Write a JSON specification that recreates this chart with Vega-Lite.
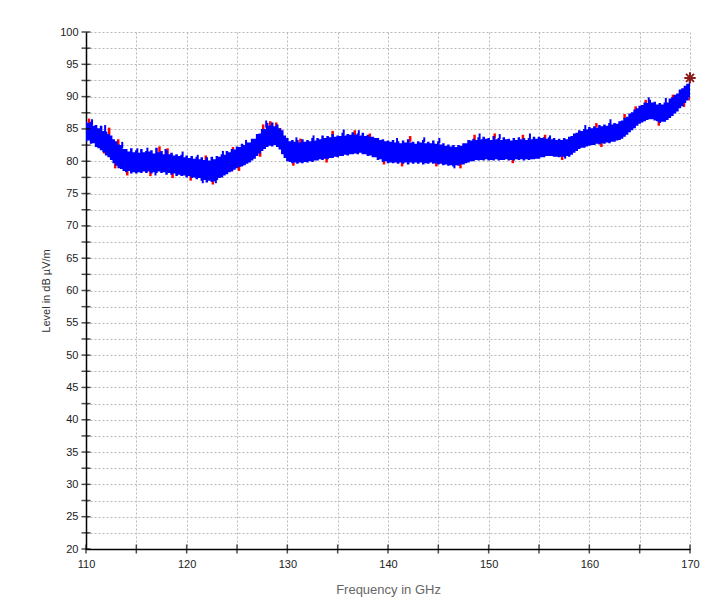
{
  "$schema": "https://vega.github.io/schema/vega-lite/v6.json",
  "width": 604,
  "height": 517,
  "autosize": {"type": "none"},
  "padding": {"left": 86, "top": 32, "right": 19, "bottom": 52},
  "background": "white",
  "config": {
    "view": {"stroke": null},
    "axis": {
      "labelFont": "Liberation Sans",
      "labelFontSize": 11,
      "labelColor": "#222222",
      "labelOverlap": false,
      "titleFont": "Liberation Sans",
      "titleFontWeight": "normal",
      "domainColor": "#000000",
      "domainWidth": 1.5,
      "ticks": false,
      "gridColor": "#b8b8b8",
      "gridDash": [2, 2],
      "gridWidth": 1
    }
  },
  "datasets": {
    "trace": [
      {"f":110,"l":83.0,"h":86.2},{"f":110.25,"l":83.2,"h":85.9},{"f":110.5,"l":82.7,"h":86.1},{"f":110.75,"l":82.8,"h":85.5},
      {"f":111,"l":82.2,"h":85.6},{"f":111.25,"l":82.0,"h":85.1},{"f":111.5,"l":81.7,"h":85.5},{"f":111.75,"l":81.4,"h":84.7},
      {"f":112,"l":80.9,"h":84.6},{"f":112.25,"l":80.6,"h":84.2},{"f":112.5,"l":80.2,"h":84.0},{"f":112.75,"l":79.7,"h":83.4},
      {"f":113,"l":79.3,"h":83.1},{"f":113.25,"l":78.9,"h":82.6},{"f":113.5,"l":78.8,"h":82.5},{"f":113.75,"l":78.5,"h":81.9},
      {"f":114,"l":78.3,"h":81.9},{"f":114.25,"l":78.5,"h":81.5},{"f":114.5,"l":78.1,"h":82.0},{"f":114.75,"l":78.3,"h":81.4},
      {"f":115,"l":78.1,"h":81.7},{"f":115.25,"l":78.3,"h":81.3},{"f":115.5,"l":78.2,"h":81.9},{"f":115.75,"l":78.4,"h":81.4},
      {"f":116,"l":78.2,"h":81.6},{"f":116.25,"l":78.4,"h":81.5},{"f":116.5,"l":78.1,"h":81.7},{"f":116.75,"l":78.3,"h":81.2},
      {"f":117,"l":78.2,"h":82.1},{"f":117.25,"l":78.4,"h":81.4},{"f":117.5,"l":78.2,"h":81.6},{"f":117.75,"l":78.3,"h":81.1},
      {"f":118,"l":77.9,"h":81.7},{"f":118.25,"l":78.2,"h":81.1},{"f":118.5,"l":77.9,"h":81.3},{"f":118.75,"l":78.1,"h":80.9},
      {"f":119,"l":77.7,"h":81.1},{"f":119.25,"l":77.9,"h":80.8},{"f":119.5,"l":77.7,"h":81.0},{"f":119.75,"l":77.8,"h":80.6},
      {"f":120,"l":77.5,"h":80.9},{"f":120.25,"l":77.7,"h":80.5},{"f":120.5,"l":77.4,"h":80.8},{"f":120.75,"l":77.5,"h":80.4},
      {"f":121,"l":77.2,"h":80.7},{"f":121.25,"l":77.4,"h":80.3},{"f":121.5,"l":77.0,"h":80.6},{"f":121.75,"l":77.1,"h":80.2},
      {"f":122,"l":76.7,"h":80.6},{"f":122.25,"l":77.0,"h":80.1},{"f":122.5,"l":76.8,"h":80.7},{"f":122.75,"l":76.9,"h":80.3},
      {"f":123,"l":77.1,"h":80.8},{"f":123.25,"l":77.4,"h":80.7},{"f":123.5,"l":77.5,"h":81.1},{"f":123.75,"l":77.8,"h":81.0},
      {"f":124,"l":78.0,"h":81.6},{"f":124.25,"l":78.3,"h":81.4},{"f":124.5,"l":78.4,"h":81.9},{"f":124.75,"l":78.7,"h":81.8},
      {"f":125,"l":78.9,"h":82.3},{"f":125.25,"l":79.1,"h":82.2},{"f":125.5,"l":79.2,"h":82.7},{"f":125.75,"l":79.4,"h":82.5},
      {"f":126,"l":79.6,"h":82.9},{"f":126.25,"l":79.8,"h":82.9},{"f":126.5,"l":80.1,"h":83.5},{"f":126.75,"l":80.4,"h":83.5},
      {"f":127,"l":80.8,"h":84.2},{"f":127.25,"l":81.2,"h":84.3},{"f":127.5,"l":81.6,"h":85.0},{"f":127.75,"l":81.9,"h":85.0},
      {"f":128,"l":82.2,"h":85.9},{"f":128.25,"l":82.4,"h":85.5},{"f":128.5,"l":82.3,"h":86.0},{"f":128.75,"l":82.5,"h":85.4},
      {"f":129,"l":82.2,"h":85.7},{"f":129.25,"l":81.8,"h":85.1},{"f":129.5,"l":81.1,"h":84.8},{"f":129.75,"l":80.5,"h":84.0},
      {"f":130,"l":80.0,"h":83.6},{"f":130.25,"l":79.9,"h":83.1},{"f":130.5,"l":79.7,"h":83.3},{"f":130.75,"l":79.8,"h":83.0},
      {"f":131,"l":79.6,"h":83.3},{"f":131.25,"l":79.8,"h":82.9},{"f":131.5,"l":79.7,"h":83.4},{"f":131.75,"l":79.9,"h":83.0},
      {"f":132,"l":79.8,"h":83.3},{"f":132.25,"l":80.0,"h":83.1},{"f":132.5,"l":79.9,"h":83.6},{"f":132.75,"l":80.1,"h":83.2},
      {"f":133,"l":80.1,"h":83.6},{"f":133.25,"l":80.3,"h":83.4},{"f":133.5,"l":80.2,"h":84.0},{"f":133.75,"l":80.4,"h":83.6},
      {"f":134,"l":80.3,"h":83.9},{"f":134.25,"l":80.5,"h":83.7},{"f":134.5,"l":80.5,"h":84.2},{"f":134.75,"l":80.7,"h":83.8},
      {"f":135,"l":80.6,"h":84.0},{"f":135.25,"l":80.8,"h":83.9},{"f":135.5,"l":80.8,"h":84.4},{"f":135.75,"l":81.0,"h":84.0},
      {"f":136,"l":80.9,"h":84.2},{"f":136.25,"l":81.1,"h":84.1},{"f":136.5,"l":81.1,"h":84.5},{"f":136.75,"l":81.2,"h":84.1},
      {"f":137,"l":81.1,"h":84.3},{"f":137.25,"l":81.3,"h":84.0},{"f":137.5,"l":81.1,"h":84.4},{"f":137.75,"l":81.1,"h":83.9},
      {"f":138,"l":80.8,"h":84.1},{"f":138.25,"l":80.9,"h":83.8},{"f":138.5,"l":80.6,"h":83.8},{"f":138.75,"l":80.6,"h":83.6},
      {"f":139,"l":80.2,"h":83.6},{"f":139.25,"l":80.3,"h":83.3},{"f":139.5,"l":79.9,"h":83.4},{"f":139.75,"l":80.0,"h":83.1},
      {"f":140,"l":79.7,"h":83.2},{"f":140.25,"l":79.8,"h":83.0},{"f":140.5,"l":79.7,"h":83.3},{"f":140.75,"l":79.8,"h":82.9},
      {"f":141,"l":79.6,"h":83.1},{"f":141.25,"l":79.8,"h":82.8},{"f":141.5,"l":79.6,"h":83.2},{"f":141.75,"l":79.8,"h":82.9},
      {"f":142,"l":79.5,"h":83.4},{"f":142.25,"l":79.8,"h":82.9},{"f":142.5,"l":79.6,"h":83.0},{"f":142.75,"l":79.8,"h":82.7},
      {"f":143,"l":79.6,"h":83.1},{"f":143.25,"l":79.8,"h":82.9},{"f":143.5,"l":79.5,"h":83.3},{"f":143.75,"l":79.7,"h":82.8},
      {"f":144,"l":79.6,"h":83.0},{"f":144.25,"l":79.8,"h":82.8},{"f":144.5,"l":79.6,"h":83.2},{"f":144.75,"l":79.7,"h":82.7},
      {"f":145,"l":79.5,"h":83.1},{"f":145.25,"l":79.6,"h":82.6},{"f":145.5,"l":79.4,"h":82.8},{"f":145.75,"l":79.5,"h":82.4},
      {"f":146,"l":79.3,"h":82.6},{"f":146.25,"l":79.4,"h":82.3},{"f":146.5,"l":79.2,"h":82.5},{"f":146.75,"l":79.4,"h":82.2},
      {"f":147,"l":79.3,"h":82.5},{"f":147.25,"l":79.5,"h":82.4},{"f":147.5,"l":79.5,"h":82.8},{"f":147.75,"l":79.7,"h":82.8},
      {"f":148,"l":79.8,"h":83.3},{"f":148.25,"l":80.0,"h":83.2},{"f":148.5,"l":80.0,"h":83.5},{"f":148.75,"l":80.2,"h":83.3},
      {"f":149,"l":80.1,"h":83.7},{"f":149.25,"l":80.2,"h":83.4},{"f":149.5,"l":80.1,"h":83.8},{"f":149.75,"l":80.3,"h":83.5},
      {"f":150,"l":80.1,"h":83.6},{"f":150.25,"l":80.2,"h":83.3},{"f":150.5,"l":80.1,"h":83.9},{"f":150.75,"l":80.3,"h":83.4},
      {"f":151,"l":80.1,"h":83.6},{"f":151.25,"l":80.2,"h":83.3},{"f":151.5,"l":80.2,"h":83.7},{"f":151.75,"l":80.3,"h":83.4},
      {"f":152,"l":80.1,"h":83.5},{"f":152.25,"l":80.2,"h":83.2},{"f":152.5,"l":80.1,"h":83.6},{"f":152.75,"l":80.3,"h":83.3},
      {"f":153,"l":80.2,"h":83.7},{"f":153.25,"l":80.3,"h":83.4},{"f":153.5,"l":80.1,"h":83.6},{"f":153.75,"l":80.3,"h":83.3},
      {"f":154,"l":80.2,"h":83.6},{"f":154.25,"l":80.3,"h":83.4},{"f":154.5,"l":80.3,"h":83.8},{"f":154.75,"l":80.4,"h":83.5},
      {"f":155,"l":80.4,"h":83.8},{"f":155.25,"l":80.6,"h":83.6},{"f":155.5,"l":80.6,"h":83.7},{"f":155.75,"l":80.8,"h":83.5},
      {"f":156,"l":80.8,"h":83.7},{"f":156.25,"l":80.8,"h":83.4},{"f":156.5,"l":80.7,"h":83.6},{"f":156.75,"l":80.7,"h":83.3},
      {"f":157,"l":80.6,"h":83.5},{"f":157.25,"l":80.7,"h":83.3},{"f":157.5,"l":80.7,"h":83.6},{"f":157.75,"l":80.8,"h":83.4},
      {"f":158,"l":80.7,"h":83.8},{"f":158.25,"l":81.0,"h":83.9},{"f":158.5,"l":81.3,"h":84.3},{"f":158.75,"l":81.6,"h":84.4},
      {"f":159,"l":81.9,"h":84.8},{"f":159.25,"l":82.1,"h":84.7},{"f":159.5,"l":82.1,"h":85.0},{"f":159.75,"l":82.3,"h":84.9},
      {"f":160,"l":82.4,"h":85.3},{"f":160.25,"l":82.5,"h":85.1},{"f":160.5,"l":82.5,"h":85.4},{"f":160.75,"l":82.7,"h":85.2},
      {"f":161,"l":82.6,"h":85.6},{"f":161.25,"l":82.8,"h":85.4},{"f":161.5,"l":82.7,"h":85.7},{"f":161.75,"l":82.9,"h":85.5},
      {"f":162,"l":82.8,"h":85.9},{"f":162.25,"l":83.0,"h":85.7},{"f":162.5,"l":83.0,"h":85.9},{"f":162.75,"l":83.2,"h":85.8},
      {"f":163,"l":83.3,"h":86.2},{"f":163.25,"l":83.5,"h":86.3},{"f":163.5,"l":83.8,"h":86.7},{"f":163.75,"l":84.1,"h":86.9},
      {"f":164,"l":84.5,"h":87.4},{"f":164.25,"l":84.8,"h":87.6},{"f":164.5,"l":85.1,"h":88.0},{"f":164.75,"l":85.5,"h":88.2},
      {"f":165,"l":85.8,"h":88.6},{"f":165.25,"l":86.0,"h":88.7},{"f":165.5,"l":86.2,"h":89.1},{"f":165.75,"l":86.4,"h":89.0},
      {"f":166,"l":86.5,"h":89.5},{"f":166.25,"l":86.5,"h":89.1},{"f":166.5,"l":86.3,"h":89.2},{"f":166.75,"l":86.2,"h":88.8},
      {"f":167,"l":85.9,"h":89.0},{"f":167.25,"l":86.1,"h":88.8},{"f":167.5,"l":86.1,"h":89.1},{"f":167.75,"l":86.4,"h":89.1},
      {"f":168,"l":86.7,"h":89.7},{"f":168.25,"l":87.0,"h":89.9},{"f":168.5,"l":87.4,"h":90.3},{"f":168.75,"l":87.7,"h":90.5},
      {"f":169,"l":88.2,"h":91.1},{"f":169.25,"l":88.5,"h":91.3},{"f":169.5,"l":89.0,"h":91.7},{"f":169.75,"l":89.4,"h":92.0},
      {"f":170,"l":89.9,"h":92.6}
    ],
    "bluespikes": [
      {"f":110.6,"a":85.5,"b":86.5},{"f":111.9,"a":84.3,"b":85.6},{"f":113.6,"a":82.0,"b":83.0},{"f":115.1,"a":81.2,"b":82.0},
      {"f":116.1,"a":81.2,"b":82.1},{"f":117.9,"a":81.0,"b":81.9},{"f":119.6,"a":80.6,"b":81.5},{"f":121.1,"a":80.2,"b":81.0},
      {"f":123.6,"a":80.8,"b":81.6},{"f":125.9,"a":82.5,"b":83.3},{"f":127.9,"a":85.2,"b":86.3},{"f":130.9,"a":82.8,"b":83.7},
      {"f":132.6,"a":83.2,"b":84.0},{"f":135.6,"a":84.0,"b":84.9},{"f":137.1,"a":84.0,"b":84.8},{"f":140.9,"a":82.8,"b":83.6},
      {"f":143.6,"a":83.0,"b":83.7},{"f":145.1,"a":82.8,"b":83.6},{"f":149.1,"a":83.4,"b":84.3},{"f":151.1,"a":83.4,"b":84.2},
      {"f":154.1,"a":83.4,"b":84.3},{"f":156.1,"a":83.4,"b":84.0},{"f":159.6,"a":84.8,"b":85.6},{"f":162.1,"a":85.6,"b":86.5},
      {"f":165.9,"a":88.8,"b":89.9},{"f":167.6,"a":88.9,"b":89.8},
      {"f":116.9,"a":77.8,"b":78.5},{"f":121.6,"a":76.6,"b":77.4},{"f":122.9,"a":76.6,"b":77.3},{"f":146.6,"a":78.9,"b":79.6},
      {"f":157.6,"a":80.4,"b":81.0}
    ],
    "redspikes": [
      {"f":110.3,"a":85.5,"b":86.6},{"f":112.3,"a":84.0,"b":85.2},{"f":113.2,"a":82.5,"b":83.4},{"f":117.3,"a":81.0,"b":82.3},
      {"f":118.1,"a":81.0,"b":82.0},{"f":121.9,"a":80.0,"b":80.9},{"f":124.6,"a":81.3,"b":82.2},{"f":127.6,"a":84.6,"b":85.7},
      {"f":128.3,"a":85.0,"b":86.2},{"f":128.9,"a":85.0,"b":86.0},{"f":129.3,"a":84.2,"b":85.1},{"f":131.3,"a":82.6,"b":83.5},
      {"f":134.5,"a":83.8,"b":84.7},{"f":136.7,"a":84.0,"b":84.8},{"f":138.2,"a":83.6,"b":84.3},{"f":142.2,"a":83.0,"b":83.9},
      {"f":148.6,"a":83.2,"b":84.1},{"f":150.6,"a":83.5,"b":84.3},{"f":153.4,"a":83.4,"b":84.1},{"f":155.6,"a":83.4,"b":84.1},
      {"f":160.7,"a":85.2,"b":85.9},{"f":163.5,"a":86.5,"b":87.3},{"f":164.6,"a":87.8,"b":88.5},{"f":165.6,"a":88.8,"b":89.5},
      {"f":168.3,"a":89.6,"b":90.3},
      {"f":111.8,"a":81.2,"b":82.2},{"f":112.9,"a":78.9,"b":79.7},{"f":114.1,"a":77.8,"b":78.6},{"f":116.4,"a":77.7,"b":78.5},
      {"f":118.6,"a":77.4,"b":78.3},{"f":120.4,"a":77.0,"b":77.8},{"f":122.6,"a":76.4,"b":77.3},{"f":125.2,"a":78.5,"b":79.4},
      {"f":127.3,"a":80.7,"b":81.6},{"f":130.6,"a":79.3,"b":80.1},{"f":133.9,"a":79.8,"b":80.6},{"f":139.6,"a":79.5,"b":80.3},
      {"f":141.4,"a":79.2,"b":80.0},{"f":144.8,"a":79.2,"b":80.0},{"f":147.2,"a":78.9,"b":79.7},{"f":152.4,"a":79.7,"b":80.5},
      {"f":157.3,"a":80.2,"b":81.0},{"f":161.2,"a":82.2,"b":83.0},{"f":166.9,"a":85.5,"b":86.3},{"f":169.4,"a":88.4,"b":89.2},
      {"f":170,"a":89.4,"b":90.3}
    ],
    "xticks": [
      {"f":110},{"f":115},{"f":120},{"f":125},{"f":130},{"f":135},{"f":140},{"f":145},{"f":150},{"f":155},{"f":160},{"f":165},{"f":170}
    ],
    "yticks": [
      {"v":20},{"v":22.5},{"v":25},{"v":27.5},{"v":30},{"v":32.5},{"v":35},{"v":37.5},{"v":40},{"v":42.5},{"v":45},{"v":47.5},
      {"v":50},{"v":52.5},{"v":55},{"v":57.5},{"v":60},{"v":62.5},{"v":65},{"v":67.5},{"v":70},{"v":72.5},{"v":75},{"v":77.5},
      {"v":80},{"v":82.5},{"v":85},{"v":87.5},{"v":90},{"v":92.5},{"v":95},{"v":97.5},{"v":100}
    ],
    "peak": [{"f": 170, "v": 92.9}]
  },
  "layer": [
    {
      "data": {"name": "redspikes"},
      "mark": {"type": "rule", "color": "#ff0000", "strokeWidth": 2.5, "clip": true},
      "encoding": {
        "x": {
          "field": "f", "type": "quantitative",
          "scale": {"domain": [110, 170], "nice": false, "zero": false},
          "axis": {
            "values": [110,115,120,125,130,135,140,145,150,155,160,165,170],
            "tickCount": 100,
            "format": "d",
            "labelExpr": "datum.value % 10 === 0 ? datum.label : ''",
            "labelOverlap": false,
            "title": "Frequency in GHz",
            "titleFontSize": 13,
            "titleColor": "#666666",
            "titlePadding": 14,
            "labelPadding": 9,
            "labelFlush": false
          }
        },
        "y": {
          "field": "a", "type": "quantitative",
          "scale": {"domain": [20, 100], "nice": false, "zero": false},
          "axis": {
            "values": [20,22.5,25,27.5,30,32.5,35,37.5,40,42.5,45,47.5,50,52.5,55,57.5,60,62.5,65,67.5,70,72.5,75,77.5,80,82.5,85,87.5,90,92.5,95,97.5,100],
            "tickCount": 100,
            "format": "d",
            "labelExpr": "datum.value % 5 === 0 ? datum.label : ''",
            "labelOverlap": false,
            "title": "Level in dB µV/m",
            "titleFontSize": 11,
            "titleColor": "#333333",
            "titlePadding": 8,
            "labelPadding": 8
          }
        },
        "y2": {"field": "b"}
      }
    },
    {
      "data": {"name": "trace"},
      "mark": {"type": "area", "color": "#0000ff", "interpolate": "step", "clip": true},
      "encoding": {
        "x": {"field": "f", "type": "quantitative"},
        "y": {"field": "l", "type": "quantitative"},
        "y2": {"field": "h"}
      }
    },
    {
      "data": {"name": "bluespikes"},
      "mark": {"type": "rule", "color": "#0000ff", "strokeWidth": 2, "clip": true},
      "encoding": {
        "x": {"field": "f", "type": "quantitative"},
        "y": {"field": "a", "type": "quantitative"},
        "y2": {"field": "b"}
      }
    },
    {
      "data": {"name": "xticks"},
      "mark": {"type": "tick", "orient": "vertical", "color": "#000000", "size": 9, "thickness": 1.5, "clip": false},
      "encoding": {
        "x": {"field": "f", "type": "quantitative"},
        "y": {"datum": 20, "type": "quantitative"}
      }
    },
    {
      "data": {"name": "yticks"},
      "mark": {"type": "tick", "orient": "horizontal", "color": "#000000", "size": 9, "thickness": 1.5, "clip": false},
      "encoding": {
        "x": {"datum": 110, "type": "quantitative"},
        "y": {"field": "v", "type": "quantitative"}
      }
    },
    {
      "data": {"name": "peak"},
      "mark": {
        "type": "point",
        "shape": "M-1,0L1,0M0,-1L0,1M-0.7,-0.7L0.7,0.7M-0.7,0.7L0.7,-0.7",
        "filled": false,
        "stroke": "#8b1a1a",
        "strokeWidth": 2,
        "size": 130,
        "opacity": 1,
        "clip": false
      },
      "encoding": {
        "x": {"field": "f", "type": "quantitative"},
        "y": {"field": "v", "type": "quantitative"}
      }
    }
  ]
}
